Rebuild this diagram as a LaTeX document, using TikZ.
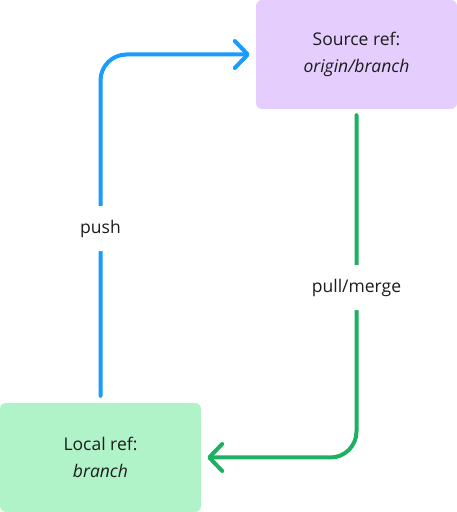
\documentclass[tikz,border=0pt]{standalone}
\usepackage{fontspec}
\setmainfont{Open Sans}
\usetikzlibrary{arrows.meta,positioning}

\definecolor{pushblue}{HTML}{1A9BFF}
\definecolor{pullgreen}{HTML}{1DB060}
\definecolor{srcfill}{HTML}{E5CDFE}
\definecolor{locfill}{HTML}{B1F3C8}
\definecolor{txtgray}{HTML}{1C1C1C}

\begin{document}
\begin{tikzpicture}[x=1pt,y=1pt,
  refbox/.style={rectangle, rounded corners=6pt, minimum width=201pt, minimum height=109pt, inner sep=0pt, align=center, text=txtgray, font=\fontsize{17.5}{27}\selectfont},
  flow/.style={line width=4pt, line cap=round, line join=round, rounded corners=26pt, -{Straight Barb[length=13pt,width=27pt,line cap=round,line join=round]}},
  flowlabel/.style={fill=white, inner xsep=2pt, minimum height=45pt, text=txtgray, font=\fontsize{17.5}{20}\selectfont}]
\useasboundingbox (0,0) rectangle (457,512);
\node[refbox, fill=srcfill] (source) at (356.5,457.5) {Source ref:\\\textit{origin/branch}};
\node[refbox, fill=locfill] (local) at (100.5,54.5) {Local ref:\\\textit{branch}};
\draw[flow, pushblue, shorten <=7pt, shorten >=6pt] (local.north) |- node[flowlabel, pos=0.25] (push) {push} (source.west);
\draw[flow, pullgreen, shorten <=6pt, shorten >=6pt] (source.south) |- node[flowlabel, pos=0.256] (pull) {pull/merge} (local.east);
\end{tikzpicture}
\end{document}
